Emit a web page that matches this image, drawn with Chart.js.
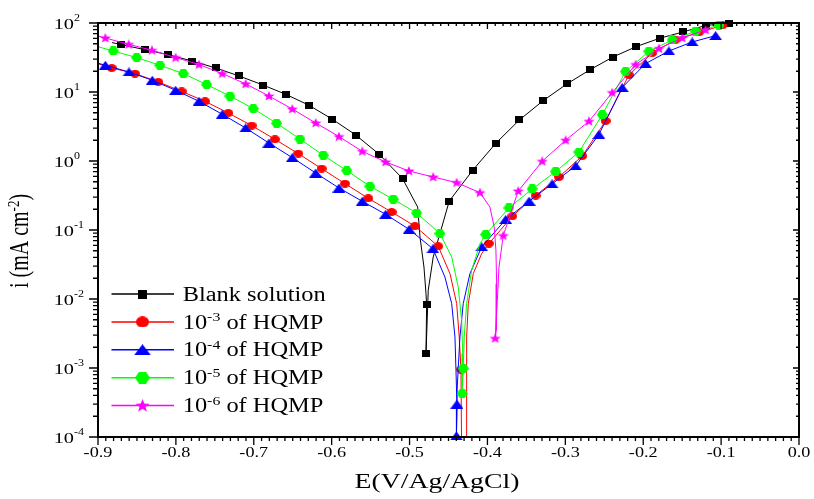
<!DOCTYPE html>
<html>
<head>
<meta charset="utf-8">
<script src="https://cdn.jsdelivr.net/npm/chart.js@4.4.1/dist/chart.umd.min.js"></script>
<style>
  body { margin: 0; background: #fff; }
  canvas { display: block; }
</style>
</head>
<body>
<canvas id="tafel" width="814" height="499"></canvas>
<script>
// potential (V vs Ag/AgCl) and current density (mA cm-2) for each scan
// *Bends = indices of points that only shape the line (no marker drawn)
const blankE = [-0.882, -0.870, -0.840, -0.810, -0.779, -0.749, -0.719, -0.688, -0.659, -0.629, -0.599, -0.569, -0.539, -0.509,
  -0.4896, -0.4866, -0.4815, -0.4789, -0.4781, -0.4789, -0.4760, -0.4696, -0.461,
  -0.449, -0.419, -0.389, -0.359, -0.329, -0.298, -0.268, -0.239, -0.209, -0.179, -0.149, -0.119, -0.090];
const blankI = [52, 48.6, 41.1, 34.8, 28.1, 22.3, 17.1, 12.6, 9.27, 6.41, 4.02, 2.38, 1.25, 0.556,
  0.215, 0.0792, 0.0291, 0.0120, 0.0083, 0.0016, 0.0134, 0.0407, 0.0887,
  0.263, 0.733, 1.82, 3.93, 7.41, 13.1, 21.1, 32.1, 45.5, 60.0, 74.1, 92.6, 98];
const blankBends = [0, 14, 15, 16, 17, 20, 21, 22];

const hqmp3E = [-0.899, -0.8824, -0.8525, -0.8226, -0.7926, -0.7626, -0.7327, -0.7027, -0.6728, -0.6429, -0.6130, -0.5829, -0.5530, -0.5230, -0.4931, -0.4632,
  -0.4481, -0.4395, -0.4362, -0.4340, -0.4333, -0.4272, -0.4267, -0.4246, -0.4182, -0.4074,
  -0.3981, -0.3682, -0.3381, -0.3082, -0.2783, -0.2483, -0.2184, -0.1885, -0.1584, -0.1285, -0.0986];
const hqmp3I = [25.5, 22.3, 18.5, 14.0, 10.2, 7.33, 4.96, 3.26, 2.06, 1.28, 0.776, 0.470, 0.288, 0.182, 0.114, 0.0581,
  0.0233, 0.00857, 0.00281, 0.00095, 0.0001, 0.0001, 0.0028, 0.00857, 0.0233, 0.0455,
  0.0636, 0.158, 0.316, 0.586, 1.18, 3.80, 17.6, 36.7, 57.4, 73, 92];
const hqmp3Bends = [0, 16, 17, 18, 20, 21, 22, 23, 24, 25];

const hqmp4E = [-0.899, -0.8906, -0.8602, -0.8303, -0.8003, -0.7703, -0.7404, -0.7104, -0.6805, -0.6506, -0.6205, -0.5906, -0.5607, -0.5307, -0.5005, -0.4700,
  -0.4546, -0.4459, -0.4417, -0.4404, -0.4392, -0.4398, -0.4388, -0.4353, -0.4311, -0.4225,
  -0.4073, -0.3765, -0.3465, -0.3170, -0.2867, -0.2569, -0.2270, -0.1970, -0.1670, -0.1371, -0.1071];
const hqmp4I = [26, 24.4, 19.5, 14.8, 10.6, 7.33, 4.75, 3.01, 1.82, 1.12, 0.670, 0.406, 0.261, 0.169, 0.102, 0.0535,
  0.0208, 0.00857, 0.00281, 0.00093, 0.0003, 0.000104, 0.00053, 0.00281, 0.00857, 0.0233,
  0.0571, 0.142, 0.262, 0.466, 0.851, 2.42, 11.6, 25.8, 39.3, 53.1, 65.6];
const hqmp4Bends = [0, 16, 17, 18, 19, 22, 23, 24, 25];

const hqmp5E = [-0.899, -0.8804, -0.8503, -0.8204, -0.7905, -0.7605, -0.7306, -0.7006, -0.6706, -0.6407, -0.6108, -0.5807, -0.5508, -0.5209, -0.4909, -0.4610,
  -0.4459, -0.4375, -0.4331, -0.4318, -0.4324, -0.4311, -0.4298, -0.4267, -0.4203, -0.4096,
  -0.4023, -0.3724, -0.3425, -0.3125, -0.2825, -0.2526, -0.2226, -0.1927, -0.1628, -0.1327, -0.1028];
const hqmp5I = [45, 39.3, 31.5, 24.4, 18.5, 12.8, 8.75, 5.74, 3.52, 2.08, 1.21, 0.726, 0.430, 0.279, 0.176, 0.0887,
  0.0407, 0.0149, 0.0049, 0.00162, 0.000426, 0.00099, 0.00281, 0.00857, 0.0261, 0.0633,
  0.0857, 0.209, 0.393, 0.702, 1.35, 4.70, 19.8, 38.9, 56.8, 75.9, 92.6];
const hqmp5Bends = [0, 16, 17, 18, 19, 22, 23, 24, 25];

const hqmp6E = [-0.899, -0.8906, -0.8606, -0.8307, -0.8003, -0.7703, -0.7404, -0.7104, -0.6805, -0.6506, -0.6205, -0.5906, -0.5607, -0.5307, -0.5008, -0.4696, -0.4395, -0.4096,
  -0.3968, -0.3913, -0.3891, -0.3882, -0.3887, -0.3900, -0.3873, -0.3852,
  -0.3797, -0.3605, -0.3297, -0.2996, -0.2697, -0.2398, -0.2098, -0.1798, -0.1499, -0.1199];
const hqmp6I = [64, 60.7, 49.1, 40.2, 31.5, 25.0, 18.5, 13.1, 8.75, 5.67, 3.56, 2.26, 1.38, 0.968, 0.717, 0.586, 0.486, 0.348,
  0.215, 0.110, 0.0508, 0.0167, 0.00352, 0.00269, 0.00957, 0.0291,
  0.0830, 0.367, 0.991, 2.00, 3.76, 9.80, 25.0, 42.6, 60.7, 79.3];
const hqmp6Bends = [0, 18, 19, 20, 21, 22, 24, 25];

const legendNames = ['Blank solution', '10', '10', '10', '10'];
const legendExp = [null, '-3', '-4', '-5', '-6'];
const legendTail = ['', ' of HQMP', ' of HQMP', ' of HQMP', ' of HQMP'];

const xTicks = [-0.9, -0.8, -0.7, -0.6, -0.5, -0.4, -0.3, -0.2, -0.1, 0.0];
const xTickLabels = ['-0.9', '-0.8', '-0.7', '-0.6', '-0.5', '-0.4', '-0.3', '-0.2', '-0.1', '0.0'];
const yTicks = [1e-4, 1e-3, 1e-2, 1e-1, 1, 10, 100];
const yTickExp = ['-4', '-3', '-2', '-1', '0', '1', '2'];

const serif = '"Liberation Serif", "Times New Roman", serif';

// small bitmap markers, slightly wider than tall
function marker(shape, color, w, h) {
  const c = document.createElement('canvas');
  c.width = w; c.height = h;
  const g = c.getContext('2d');
  g.fillStyle = color;
  g.beginPath();
  if (shape === 'square') {
    g.rect(0, 0, w, h);
  } else if (shape === 'circle') {
    g.ellipse(w / 2, h / 2, w / 2, h / 2, 0, 0, Math.PI * 2);
  } else if (shape === 'triangle') {
    g.moveTo(w / 2, 0); g.lineTo(w, h); g.lineTo(0, h);
  } else if (shape === 'hexagon') {
    g.moveTo(0, h / 2); g.lineTo(w * 0.27, 0); g.lineTo(w * 0.73, 0);
    g.lineTo(w, h / 2); g.lineTo(w * 0.73, h); g.lineTo(w * 0.27, h);
  } else if (shape === 'star') {
    for (let k = 0; k < 10; k++) {
      const r = k % 2 ? 0.42 : 1;
      const ang = -Math.PI / 2 + k * Math.PI / 5;
      const px = w / 2 + Math.cos(ang) * r * w / 2;
      const py = h * 0.53 + Math.sin(ang) * r * h * 0.53;
      if (k) g.lineTo(px, py); else g.moveTo(px, py);
    }
  }
  g.closePath();
  g.fill();
  return c;
}

const series = [
  { E: blankE, I: blankI, bends: blankBends, color: '#000000', shape: 'square', size: [8, 7], lsize: [9, 9] },
  { E: hqmp3E, I: hqmp3I, bends: hqmp3Bends, color: '#ff0000', shape: 'circle', size: [10, 8], lsize: [13, 11] },
  { E: hqmp4E, I: hqmp4I, bends: hqmp4Bends, color: '#0000ff', shape: 'triangle', size: [13, 9], lsize: [17, 11] },
  { E: hqmp5E, I: hqmp5I, bends: hqmp5Bends, color: '#00ff00', shape: 'hexagon', size: [11, 9], lsize: [15, 12] },
  { E: hqmp6E, I: hqmp6I, bends: hqmp6Bends, color: '#ff00ff', shape: 'star', size: [12, 10], lsize: [15, 13] }
];
series.forEach(s => {
  s.img = marker(s.shape, s.color, s.size[0], s.size[1]);
  s.limg = marker(s.shape, s.color, s.lsize[0], s.lsize[1]);
});

// text squeezed into the wide look of the original figure
function wideText(ctx, txt, x, y, size, sx, align) {
  ctx.save();
  ctx.font = size + 'px ' + serif;
  const w = ctx.measureText(txt).width * sx;
  let x0 = x;
  if (align === 'center') x0 = x - w / 2;
  else if (align === 'right') x0 = x - w;
  ctx.translate(x0, y);
  ctx.scale(sx, 1);
  ctx.textAlign = 'left';
  ctx.textBaseline = 'alphabetic';
  ctx.fillText(txt, 0, 0);
  ctx.restore();
  return w;
}

const frame = {
  id: 'frame',
  afterDatasetsDraw(chart) {
    const ctx = chart.ctx;
    const a = chart.chartArea;
    const xs = chart.scales.x, ys = chart.scales.y;
    ctx.save();
    ctx.strokeStyle = '#000';
    ctx.fillStyle = '#000';

    // x ticks: majors every 0.1, minors every 0.01
    ctx.lineWidth = 1.3;
    ctx.beginPath();
    for (let i = 0; i < xTicks.length; i++) {
      const px = xs.getPixelForValue(xTicks[i]);
      ctx.moveTo(px, a.bottom); ctx.lineTo(px, a.bottom + 8);
      ctx.moveTo(px, a.top); ctx.lineTo(px, a.top + 6);
      if (i < xTicks.length - 1) {
        for (let k = 1; k < 10; k++) {
          const mx = xs.getPixelForValue(xTicks[i] + (xTicks[i + 1] - xTicks[i]) * k / 10);
          ctx.moveTo(mx, a.bottom); ctx.lineTo(mx, a.bottom + 4);
          ctx.moveTo(mx, a.top); ctx.lineTo(mx, a.top + 3);
        }
      }
    }
    // y ticks: decades and 2..9 minors
    for (let i = 0; i < yTicks.length; i++) {
      const py = ys.getPixelForValue(yTicks[i]);
      ctx.moveTo(a.left - 9, py); ctx.lineTo(a.left, py);
      ctx.moveTo(a.right, py); ctx.lineTo(a.right - 6, py);
      if (i < yTicks.length - 1) {
        for (let m = 2; m < 10; m++) {
          const my = ys.getPixelForValue(yTicks[i] * m);
          ctx.moveTo(a.left - 5, my); ctx.lineTo(a.left, my);
          ctx.moveTo(a.right, my); ctx.lineTo(a.right - 3, my);
        }
      }
    }
    ctx.stroke();

    // box
    ctx.lineWidth = 2;
    ctx.strokeRect(a.left, a.top, a.right - a.left, a.bottom - a.top);

    // tick labels
    for (let i = 0; i < xTicks.length; i++) {
      wideText(ctx, xTickLabels[i], xs.getPixelForValue(xTicks[i]), a.bottom + 19.5, 14, 1.3, 'center');
    }
    for (let i = 0; i < yTicks.length; i++) {
      const py = ys.getPixelForValue(yTicks[i]);
      wideText(ctx, '10', 74, py + 6.3, 14, 1.45, 'right');
      wideText(ctx, yTickExp[i], 74, py - 2, 10, 1.2, 'left');
    }

    // axis titles
    wideText(ctx, 'E(V/Ag/AgCl)', 437, 488, 21, 1.32, 'center');

    ctx.save();
    ctx.translate(28, 241);
    ctx.rotate(-Math.PI / 2);
    ctx.scale(1, 1.35);
    ctx.textBaseline = 'alphabetic';
    ctx.textAlign = 'left';
    ctx.font = '20px ' + serif;
    const w1 = ctx.measureText('i (mA cm').width;
    const w3 = ctx.measureText(')').width;
    ctx.font = '13px ' + serif;
    const w2 = ctx.measureText('-2').width;
    const x0 = -(w1 + w2 + w3) / 2;
    ctx.font = '20px ' + serif;
    ctx.fillText('i (mA cm', x0, 0);
    ctx.fillText(')', x0 + w1 + w2, 0);
    ctx.font = '13px ' + serif;
    ctx.fillText('-2', x0 + w1, -7);
    ctx.restore();

    // legend
    const rowTop = 294, rowGap = 27.9;
    series.forEach((s, i) => {
      const y = rowTop + i * rowGap;
      ctx.strokeStyle = s.color;
      ctx.lineWidth = 1.5;
      ctx.beginPath();
      ctx.moveTo(111.5, y); ctx.lineTo(174, y);
      ctx.stroke();
      ctx.drawImage(s.limg, 142.5 - s.limg.width / 2, y - s.limg.height / 2);
      let x = 182.7;
      x += wideText(ctx, legendNames[i], x, y + 6.6, 20, 1.22, 'left');
      if (legendExp[i]) {
        x += wideText(ctx, legendExp[i], x, y - 0.5, 13, 1.22, 'left');
        wideText(ctx, legendTail[i], x, y + 6.6, 20, 1.22, 'left');
      }
    });
    ctx.restore();
  }
};

const datasets = series.map((s, i) => ({
  data: s.E.map((e, k) => ({ x: e, y: s.I[k] })),
  showLine: true,
  borderColor: s.color,
  borderWidth: 1,
  tension: 0,
  fill: false,
  pointStyle: s.img,
  pointRadius: ctx => s.bends.includes(ctx.dataIndex) ? 0 : 4,
  pointHoverRadius: ctx => s.bends.includes(ctx.dataIndex) ? 0 : 4,
  pointBorderWidth: 0,
  clip: 8,
  order: series.length - i
}));

new Chart('tafel', {
  type: 'scatter',
  data: { datasets: datasets },
  options: {
    responsive: false,
    animation: false,
    events: [],
    layout: { padding: { left: 98, right: 15, top: 23, bottom: 62 } },
    plugins: { legend: { display: false }, tooltip: { enabled: false } },
    scales: {
      x: { type: 'linear', min: -0.9, max: 0, display: false },
      y: { type: 'logarithmic', min: 1e-4, max: 100, display: false }
    }
  },
  plugins: [frame]
});
</script>
</body>
</html>
